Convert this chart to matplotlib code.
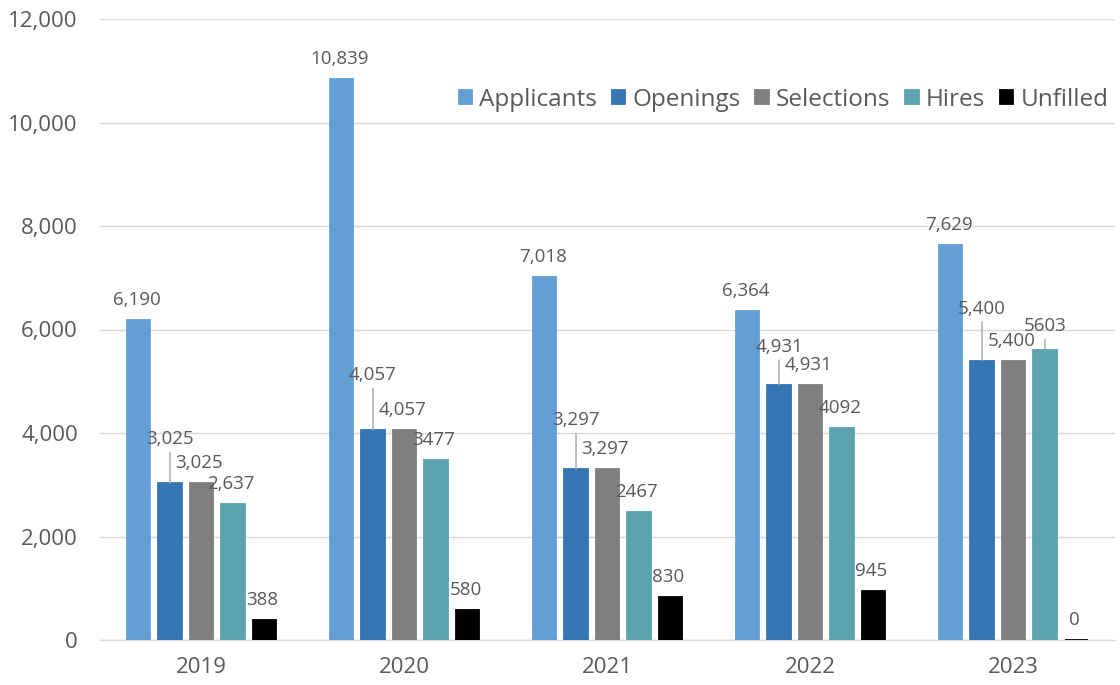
import matplotlib
matplotlib.use("Agg")
import matplotlib.pyplot as plt
import numpy as np

# --- data -------------------------------------------------------------
years = ["2019", "2020", "2021", "2022", "2023"]
series_names = ["Applicants", "Openings", "Selections", "Hires", "Unfilled"]
applicants = [6190, 10839, 7018, 6364, 7629]
openings = [3025, 4057, 3297, 4931, 5400]
selections = [3025, 4057, 3297, 4931, 5400]
hires = [2637, 3477, 2467, 4092, 5603]
unfilled = [388, 580, 830, 945, 0]
y_ticks = [0, 2000, 4000, 6000, 8000, 10000, 12000]

# label number formats: thousands separator everywhere except most Hires labels
series_formats = ["{:,}", "{:,}", "{:,}", "{}", "{:,}"]
format_overrides = {(3, 0): "{:,}"}

# --- style ------------------------------------------------------------
colors = ["#629FD4", "#3476B3", "#7F7F7F", "#5BA3AE", "#000000"]
text_color = "#595959"
grid_color = "#D9D9D9"
plt.rcParams["font.family"] = ["Open Sans", "DejaVu Sans"]

# label lifts (pixels above the bar top) for labels pulled up on leader lines
default_lift = 20
leader_lifts = {
    (1, 0): 44, (1, 1): 55, (1, 2): 49, (1, 3): 38, (1, 4): 52,
    (3, 4): 24,
}

fig = plt.figure(figsize=(11.2, 6.85), dpi=100)
ax = fig.add_axes([100 / 1120, 45 / 685, 1015 / 1120, 621 / 685])

all_series = [applicants, openings, selections, hires, unfilled]
x = np.arange(len(years))
pitch = 0.155
width = 0.117
offsets = (np.arange(len(all_series)) - 2) * pitch

for s, (vals, name, col) in enumerate(zip(all_series, series_names, colors)):
    bars = ax.bar(x + offsets[s], vals, width, color=col, edgecolor=col,
                  linewidth=1.3, label=name, zorder=3)
    for i, (b, v) in enumerate(zip(bars, vals)):
        cx = b.get_x() + b.get_width() / 2
        txt = format_overrides.get((s, i), series_formats[s]).format(v)
        if (s, i) in leader_lifts:
            lift = leader_lifts[(s, i)]
            ax.annotate(txt, xy=(cx, v), xytext=(0, lift),
                        textcoords="offset pixels", ha="center", va="center",
                        fontsize=13.5, color=text_color, zorder=5,
                        arrowprops=dict(arrowstyle="-", color="#A6A6A6",
                                        lw=1, shrinkA=1, shrinkB=0))
        else:
            ax.annotate(txt, xy=(cx, v), xytext=(-2, default_lift),
                        textcoords="offset pixels", ha="center", va="center",
                        fontsize=13.5, color=text_color, zorder=5)

ax.set_xlim(-0.5, len(years) - 0.5)
ax.set_ylim(0, 12000)
ax.set_yticks(y_ticks)
ax.set_yticklabels([f"{t:,}" for t in y_ticks])
ax.set_xticks(x)
ax.set_xticklabels(years)
ax.tick_params(axis="y", length=0, pad=16, labelsize=16, labelcolor=text_color)
ax.tick_params(axis="x", length=0, pad=12, labelsize=16, labelcolor=text_color)
ax.grid(axis="y", color=grid_color, linewidth=1, zorder=0)
for sp in ["top", "right", "left"]:
    ax.spines[sp].set_visible(False)
ax.spines["bottom"].set_color(grid_color)
ax.spines["bottom"].set_linewidth(1)
ax.spines["bottom"].set_zorder(1)

leg = ax.legend(loc="center right", bbox_to_anchor=(1.003, 0.87), ncol=5,
                frameon=False, fontsize=17.5, handlelength=0.55,
                handleheight=0.55, handletextpad=0.3, columnspacing=0.6,
                borderaxespad=0)
for t in leg.get_texts():
    t.set_color(text_color)

fig.savefig("out.png", dpi=100, facecolor="white")
